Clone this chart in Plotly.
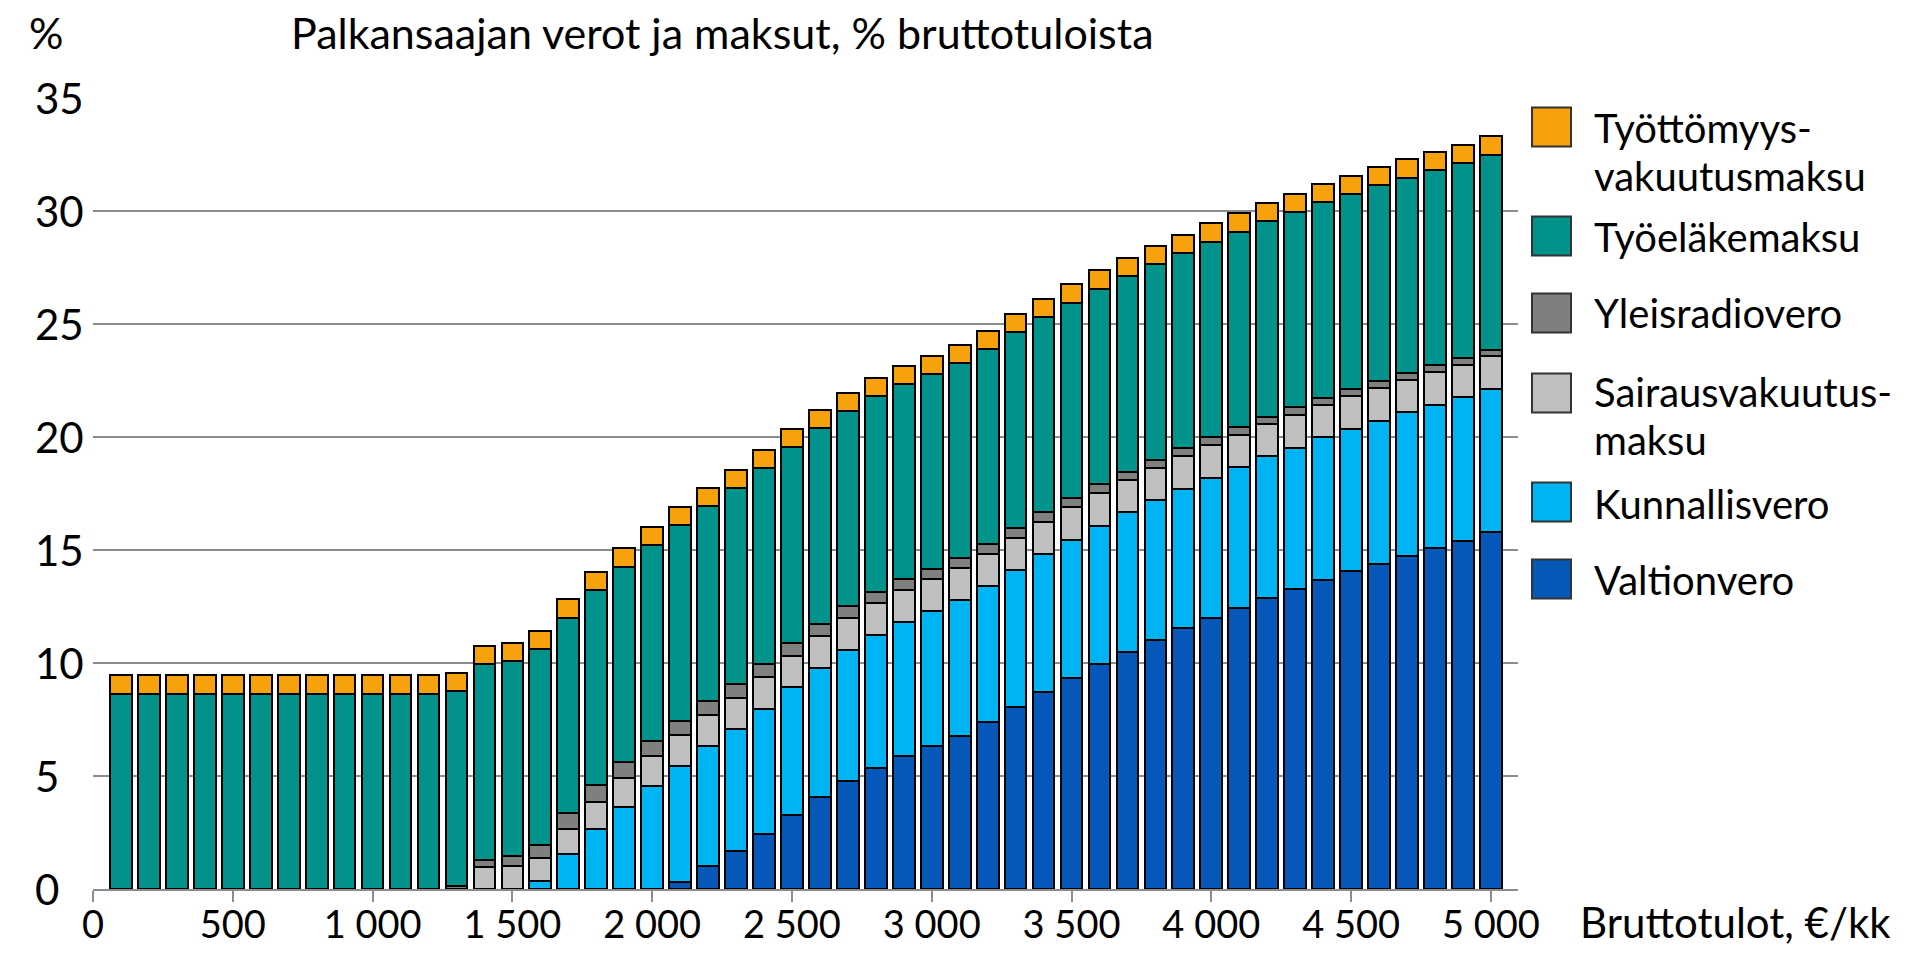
import plotly.graph_objects as go

# ---------------- data ----------------
income = [100, 200, 300, 400, 500, 600, 700, 800, 900, 1000,
          1100, 1200, 1300, 1400, 1500, 1600, 1700, 1800, 1900, 2000,
          2100, 2200, 2300, 2400, 2500, 2600, 2700, 2800, 2900, 3000,
          3100, 3200, 3300, 3400, 3500, 3600, 3700, 3800, 3900, 4000,
          4100, 4200, 4300, 4400, 4500, 4600, 4700, 4800, 4900, 5000]

valtionvero = [0, 0, 0, 0, 0, 0, 0, 0, 0, 0,
               0, 0, 0, 0, 0, 0, 0, 0, 0, 0,
               0.31, 1.00, 1.70, 2.45, 3.29, 4.06, 4.76, 5.35, 5.87, 6.34,
               6.75, 7.37, 8.05, 8.72, 9.34, 9.96, 10.50, 11.03, 11.53, 12.00,
               12.43, 12.87, 13.27, 13.69, 14.05, 14.39, 14.75, 15.09, 15.41, 15.78]

kunnallisvero = [0, 0, 0, 0, 0, 0, 0, 0, 0, 0,
                 0, 0, 0, 0, 0, 0.34, 1.56, 2.67, 3.63, 4.54,
                 5.12, 5.31, 5.38, 5.53, 5.63, 5.72, 5.83, 5.90, 5.93, 5.95,
                 6.02, 6.05, 6.08, 6.10, 6.12, 6.12, 6.17, 6.17, 6.18, 6.20,
                 6.24, 6.27, 6.26, 6.29, 6.30, 6.33, 6.34, 6.34, 6.36, 6.36]

sairausvakuutusmaksu = [0, 0, 0, 0, 0, 0, 0, 0, 0, 0,
                        0, 0, 0, 0.97, 1.00, 1.03, 1.11, 1.19, 1.28, 1.33,
                        1.37, 1.37, 1.37, 1.39, 1.38, 1.40, 1.40, 1.42, 1.42, 1.44,
                        1.43, 1.42, 1.41, 1.44, 1.44, 1.44, 1.42, 1.43, 1.45, 1.43,
                        1.43, 1.42, 1.45, 1.43, 1.45, 1.45, 1.45, 1.44, 1.43, 1.46]

yleisradiovero = [0, 0, 0, 0, 0, 0, 0, 0, 0, 0,
                  0, 0, 0.12, 0.33, 0.44, 0.58, 0.69, 0.73, 0.71, 0.69,
                  0.65, 0.62, 0.64, 0.60, 0.59, 0.56, 0.52, 0.49, 0.48, 0.42,
                  0.43, 0.42, 0.44, 0.40, 0.40, 0.40, 0.38, 0.37, 0.34, 0.37,
                  0.34, 0.33, 0.34, 0.32, 0.32, 0.32, 0.29, 0.30, 0.29, 0.25]

tyoelakemaksu = [8.65] * 50

tyottomyysvakuutusmaksu = [0.80] * 50

x_tick_values = [0, 500, 1000, 1500, 2000, 2500, 3000, 3500, 4000, 4500, 5000]
x_tick_labels = ["0", "500", "1 000", "1 500", "2 000", "2 500", "3 000",
                 "3 500", "4 000", "4 500", "5 000"]
y_tick_values = [0, 5, 10, 15, 20, 25, 30, 35]
y_tick_labels = ["0", "5", "10", "15", "20", "25", "30", "35"]

title_text = "Palkansaajan verot ja maksut, % bruttotuloista"
y_unit = "%"
x_title = "Bruttotulot, €/kk"

# stacking order bottom -> top
series = [
    ("Valtionvero", valtionvero, "#0558B8", ["Valtionvero"]),
    ("Kunnallisvero", kunnallisvero, "#00B4F3", ["Kunnallisvero"]),
    ("Sairausvakuutusmaksu", sairausvakuutusmaksu, "#BFBFBF", ["Sairausvakuutus-", "maksu"]),
    ("Yleisradiovero", yleisradiovero, "#7F7F7F", ["Yleisradiovero"]),
    ("Työeläkemaksu", tyoelakemaksu, "#00928B", ["Työeläkemaksu"]),
    ("Työttömyysvakuutusmaksu", tyottomyysvakuutusmaksu, "#F7A20D", ["Työttömyys-", "vakuutusmaksu"]),
]

# ---------------- layout geometry (pixels) ----------------
W, H = 1897, 941
ML, MR, MT, MB = 85, 387, 90, 60
PW = W - ML - MR
PH = H - MT - MB
FONT = "Lato"
FS_TITLE = 43
FS_LEG = 40
FS_YTICK = 42
FS_XTICK = 38
FS_XTITLE = 42


def px_x(px):
    return (px - ML) / PW


def px_y(py):
    return (H - MB - py) / PH


fig = go.Figure()
for name, vals, color, _ in series:
    fig.add_trace(go.Bar(
        x=income, y=vals, name=name, width=77.7,
        marker=dict(color=color, line=dict(color="black", width=2)),
        showlegend=False,
    ))

shapes = []
annotations = []

# custom legend (top -> bottom = reverse stacking order)
sq_centers = [119, 228, 305, 385, 494, 571]
line_centers = [[120, 168], [229], [305], [384, 432], [496], [572]]
SQ = 39
for (name, vals, color, lines), cy, lcs in zip(series[::-1], sq_centers, line_centers):
    shapes.append(dict(type="rect", xref="paper", yref="paper",
                       x0=px_x(1524), x1=px_x(1524 + SQ),
                       y0=px_y(cy + SQ / 2), y1=px_y(cy - SQ / 2),
                       fillcolor=color, line=dict(color="#333333", width=2)))
    for txt, ly in zip(lines, lcs):
        annotations.append(dict(text=txt, xref="paper", yref="paper",
                                x=px_x(1584), y=px_y(ly), xanchor="left", yanchor="middle",
                                showarrow=False, font=dict(family=FONT, size=FS_LEG, color="black")))

# y tick labels (left aligned, as in the reference)
for v, lab in zip(y_tick_values, y_tick_labels):
    annotations.append(dict(text=lab, xref="paper", yref="y", x=px_x(25), y=v,
                            xanchor="left", yanchor="middle", showarrow=False,
                            font=dict(family=FONT, size=FS_YTICK, color="black")))

annotations.append(dict(text=title_text, xref="paper", yref="paper",
                        x=px_x(281), y=px_y(24), xanchor="left", yanchor="middle",
                        showarrow=False, font=dict(family=FONT, size=FS_TITLE, color="black")))
annotations.append(dict(text=y_unit, xref="paper", yref="paper",
                        x=px_x(19), y=px_y(24), xanchor="left", yanchor="middle",
                        showarrow=False, font=dict(family=FONT, size=FS_TITLE, color="black")))
annotations.append(dict(text=x_title, xref="paper", yref="paper",
                        x=px_x(1570), y=px_y(914), xanchor="left", yanchor="middle",
                        showarrow=False, font=dict(family=FONT, size=FS_XTITLE, color="black")))

fig.update_layout(
    width=W, height=H,
    margin=dict(l=ML, r=MR, t=MT, b=MB, autoexpand=False),
    barmode="stack",
    plot_bgcolor="white", paper_bgcolor="white",
    font=dict(family=FONT, size=FS_XTICK, color="black"),
    shapes=shapes, annotations=annotations,
    xaxis=dict(range=[0, 5097], tickmode="array", tickvals=x_tick_values,
               ticktext=x_tick_labels, showgrid=False, zeroline=False,
               showline=True, linecolor="#8C8C8C", linewidth=2,
               ticks="outside", ticklen=11, tickwidth=2, tickcolor="#8C8C8C",
               ticklabelstandoff=-10,
               tickfont=dict(family=FONT, size=FS_XTICK, color="black")),
    yaxis=dict(range=[0, 35], tickmode="array", tickvals=y_tick_values,
               showgrid=True, gridcolor="#8C8C8C", gridwidth=2, zeroline=False,
               showline=False, ticks="", showticklabels=False),
)

fig.write_html("out.html")
